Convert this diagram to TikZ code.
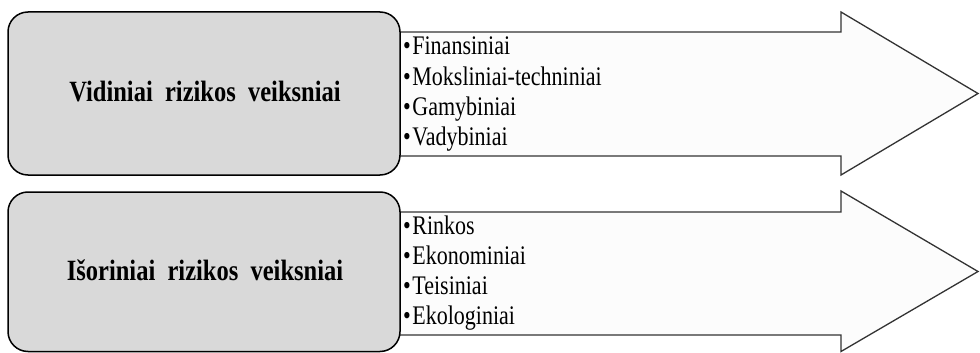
\documentclass[tikz,border=0pt]{standalone}
\usepackage{fontspec}
\setmainfont{Liberation Serif}
\newcommand{\tallbold}[1]{\scalebox{1}[1.2]{\fontsize{24.5}{28}\selectfont\bfseries #1}}
\newcommand{\tallitem}[1]{\scalebox{1}[1.22]{\fontsize{22}{26}\selectfont\textbullet\hspace{1.5pt}#1}}
\begin{document}
\begin{tikzpicture}[x=1pt,y=-1pt,
  arrowshape/.style={draw=black!80, line width=1.3pt, fill=black!1, line join=miter},
  factorbox/.style={draw=black, line width=1.5pt, fill=black!15, rounded corners=20pt},
  boxlabel/.style={anchor=base, inner sep=0pt},
  itemline/.style={anchor=base west, inner sep=0pt}]
\useasboundingbox (0,0) rectangle (980,353);
% top arrow and box
\draw[arrowshape] (395,32) -- (841,32) -- (841,12) -- (978,93.5) -- (841,175) -- (841,156) -- (395,156) -- cycle;
\draw[factorbox] (8,12) rectangle (400,175);
\node[boxlabel] (vid) at (205,102) {\tallbold{Vidiniai\ \ rizikos\ \ veiksniai}};
\node[itemline] (v1) at (403,55) {\tallitem{Finansiniai}};
\node[itemline] (v2) at (403,85) {\tallitem{Moksliniai-techniniai}};
\node[itemline] (v3) at (403,115) {\tallitem{Gamybiniai}};
\node[itemline] (v4) at (403,145) {\tallitem{Vadybiniai}};
% bottom arrow and box
\draw[arrowshape] (395,212) -- (841,212) -- (841,191) -- (978,271.5) -- (841,351.5) -- (841,335) -- (395,335) -- cycle;
\draw[factorbox] (8,192) rectangle (400,351.5);
\node[boxlabel] (isor) at (205,280) {\tallbold{Išoriniai\ \ rizikos\ \ veiksniai}};
\node[itemline] (i1) at (403,234) {\tallitem{Rinkos}};
\node[itemline] (i2) at (403,264) {\tallitem{Ekonominiai}};
\node[itemline] (i3) at (403,294) {\tallitem{Teisiniai}};
\node[itemline] (i4) at (403,324) {\tallitem{Ekologiniai}};
\end{tikzpicture}
\end{document}
